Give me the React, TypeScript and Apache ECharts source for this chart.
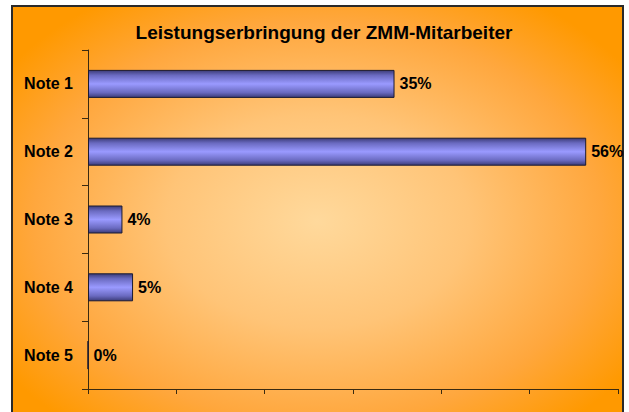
import React, { useEffect, useRef } from "react";
import * as echarts from "echarts";

const categories = ["Note 1", "Note 2", "Note 3", "Note 4", "Note 5"];
const values = [34.7, 56.4, 3.9, 5.1, 0];
const titleText = "Leistungserbringung der ZMM-Mitarbeiter";

export default function App() {
  const ref = useRef<HTMLDivElement>(null);
  useEffect(() => {
    if (!ref.current) return;
    const chart = echarts.init(ref.current, null, { renderer: "svg" });
    const font = "Arial, 'Liberation Sans', Helvetica, sans-serif";
    chart.setOption({
      animation: false,
      backgroundColor: "#ffffff",
      graphic: [
        {
          type: "rect",
          z: -10,
          silent: true,
          shape: { x: 12, y: 6, width: 611, height: 430 },
          style: {
            fill: new echarts.graphic.RadialGradient(0.5, 0.5, 0.62, [
              { offset: 0, color: "#ffd99c" },
              { offset: 0.4, color: "#ffc477" },
              { offset: 0.75, color: "#ffa73d" },
              { offset: 1, color: "#ff9900" },
            ]),
            stroke: "#2a2a2a",
            lineWidth: 2,
          },
        },
      ],
      title: {
        text: titleText,
        left: 319,
        top: 18,
        textAlign: "center",
        textStyle: {
          fontFamily: font,
          fontSize: 19,
          fontWeight: "bold",
          color: "#000",
        },
      },
      grid: { left: 88, right: 11, top: 50, bottom: 23, containLabel: false },
      xAxis: {
        type: "value",
        min: 0,
        max: 60,
        interval: 10,
        axisLine: { show: true, lineStyle: { color: "#3a2a10", width: 1 } },
        axisTick: { show: true, length: 5, lineStyle: { color: "#3a2a10" } },
        axisLabel: { show: false },
        splitLine: { show: false },
      },
      yAxis: {
        type: "category",
        data: categories,
        inverse: true,
        axisLine: { show: true, lineStyle: { color: "#3a2a10", width: 1 } },
        axisTick: { show: true, length: 6, alignWithLabel: false, lineStyle: { color: "#3a2a10" } },
        axisLabel: {
          fontFamily: font,
          fontSize: 16,
          fontWeight: "bold",
          color: "#000",
          margin: 15,
        },
      },
      series: [
        {
          type: "bar",
          data: values,
          barWidth: 28,
          itemStyle: {
            color: new echarts.graphic.LinearGradient(0, 0, 0, 1, [
              { offset: 0, color: "#3c3c78" },
              { offset: 0.18, color: "#6a6ac0" },
              { offset: 0.5, color: "#9a9aff" },
              { offset: 0.82, color: "#6a6ac0" },
              { offset: 1, color: "#3c3c78" },
            ]),
            borderColor: "#1a1a33",
            borderWidth: 1,
          },
          label: {
            show: true,
            position: "right",
            distance: 5,
            formatter: (p: any) => Math.round(p.value) + "%",
            fontFamily: font,
            fontSize: 16,
            fontWeight: "bold",
            color: "#000",
          },
        },
      ],
    });
    return () => chart.dispose();
  }, []);
  return (
    <div
      ref={ref}
      style={{ position: "fixed", left: 0, top: 0, width: 629, height: 412 }}
    />
  );
}
